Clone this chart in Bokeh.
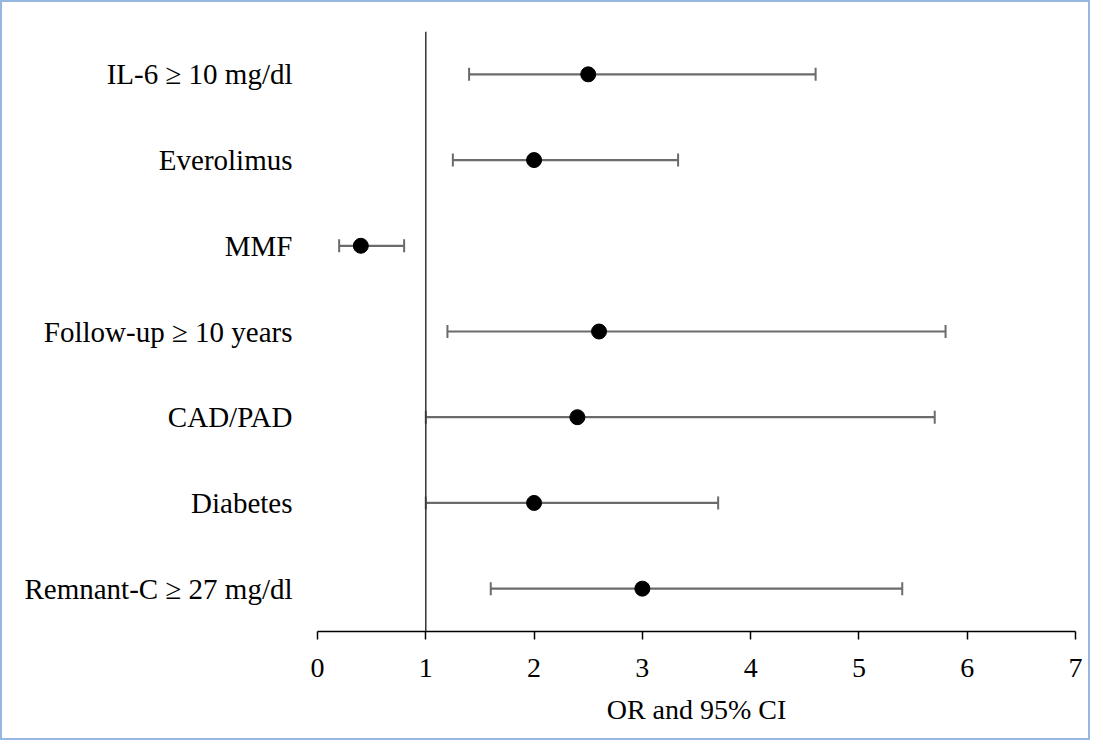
from bokeh.plotting import figure
from bokeh.models import ColumnDataSource, FactorRange, Range1d, FixedTicker, Span, Whisker, TeeHead
from bokeh.embed import file_html
from bokeh.resources import INLINE

# Data (top to bottom in the chart)
labels = ["IL-6 \u2265 10 mg/dl", "Everolimus", "MMF", "Follow-up \u2265 10 years",
          "CAD/PAD", "Diabetes", "Remnant-C \u2265 27 mg/dl"]
odds_ratio = [2.5, 2.0, 0.4, 2.6, 2.4, 2.0, 3.0]
ci_lower = [1.4, 1.25, 0.2, 1.2, 1.0, 1.0, 1.6]
ci_upper = [4.6, 3.33, 0.8, 5.8, 5.7, 3.7, 5.4]
x_ticks = [0, 1, 2, 3, 4, 5, 6, 7]

FONT = "Liberation Serif"
FS = "28px"

src = ColumnDataSource(dict(y=labels, orv=odds_ratio, lo=ci_lower, hi=ci_upper))

p = figure(width=1090, height=740, output_backend="svg", toolbar_location=None,
           y_range=FactorRange(*labels[::-1], range_padding=0),
           x_range=Range1d(0, 7),
           min_border_left=315, min_border_right=17, min_border_top=29, min_border_bottom=111)
p.styles = {"border": "2px solid #95b7e0"}
p.outline_line_color = None
p.xgrid.grid_line_color = None
p.ygrid.grid_line_color = None
p.background_fill_color = "white"
p.border_fill_color = "white"

# reference line at OR = 1
p.add_layout(Span(location=1, dimension="height", line_color="#333333", line_width=1.5))

# CI whiskers
grey = "#6b6b6b"
w = Whisker(source=src, base="y", lower="lo", upper="hi", dimension="width",
            line_color=grey, line_width=2.2,
            lower_head=TeeHead(size=13, line_color=grey, line_width=2),
            upper_head=TeeHead(size=13, line_color=grey, line_width=2))
p.add_layout(w)

# point estimates
p.scatter(x="orv", y="y", source=src, size=15, color="black")

# x axis
xa = p.xaxis[0]
xa.ticker = FixedTicker(ticks=x_ticks)
xa.axis_line_color = "black"
xa.axis_line_width = 1.5
xa.major_tick_line_color = "black"
xa.major_tick_line_width = 1.5
xa.major_tick_in = 0
xa.major_tick_out = 8
xa.minor_tick_line_color = None
xa.major_label_text_font = FONT
xa.major_label_text_font_size = FS
xa.major_label_text_color = "black"
xa.major_label_standoff = 19
xa.axis_label = "OR and 95% CI"
xa.axis_label_text_font = FONT
xa.axis_label_text_font_size = FS
xa.axis_label_text_font_style = "normal"
xa.axis_label_text_color = "black"
xa.axis_label_standoff = 14

# y axis (category labels)
ya = p.yaxis[0]
ya.axis_line_color = None
ya.major_tick_line_color = None
ya.minor_tick_line_color = None
ya.major_label_text_font = FONT
ya.major_label_text_font_size = "29px"
ya.major_label_text_color = "black"
ya.major_label_standoff = 19

open("out.html", "w").write(file_html(p, INLINE))
